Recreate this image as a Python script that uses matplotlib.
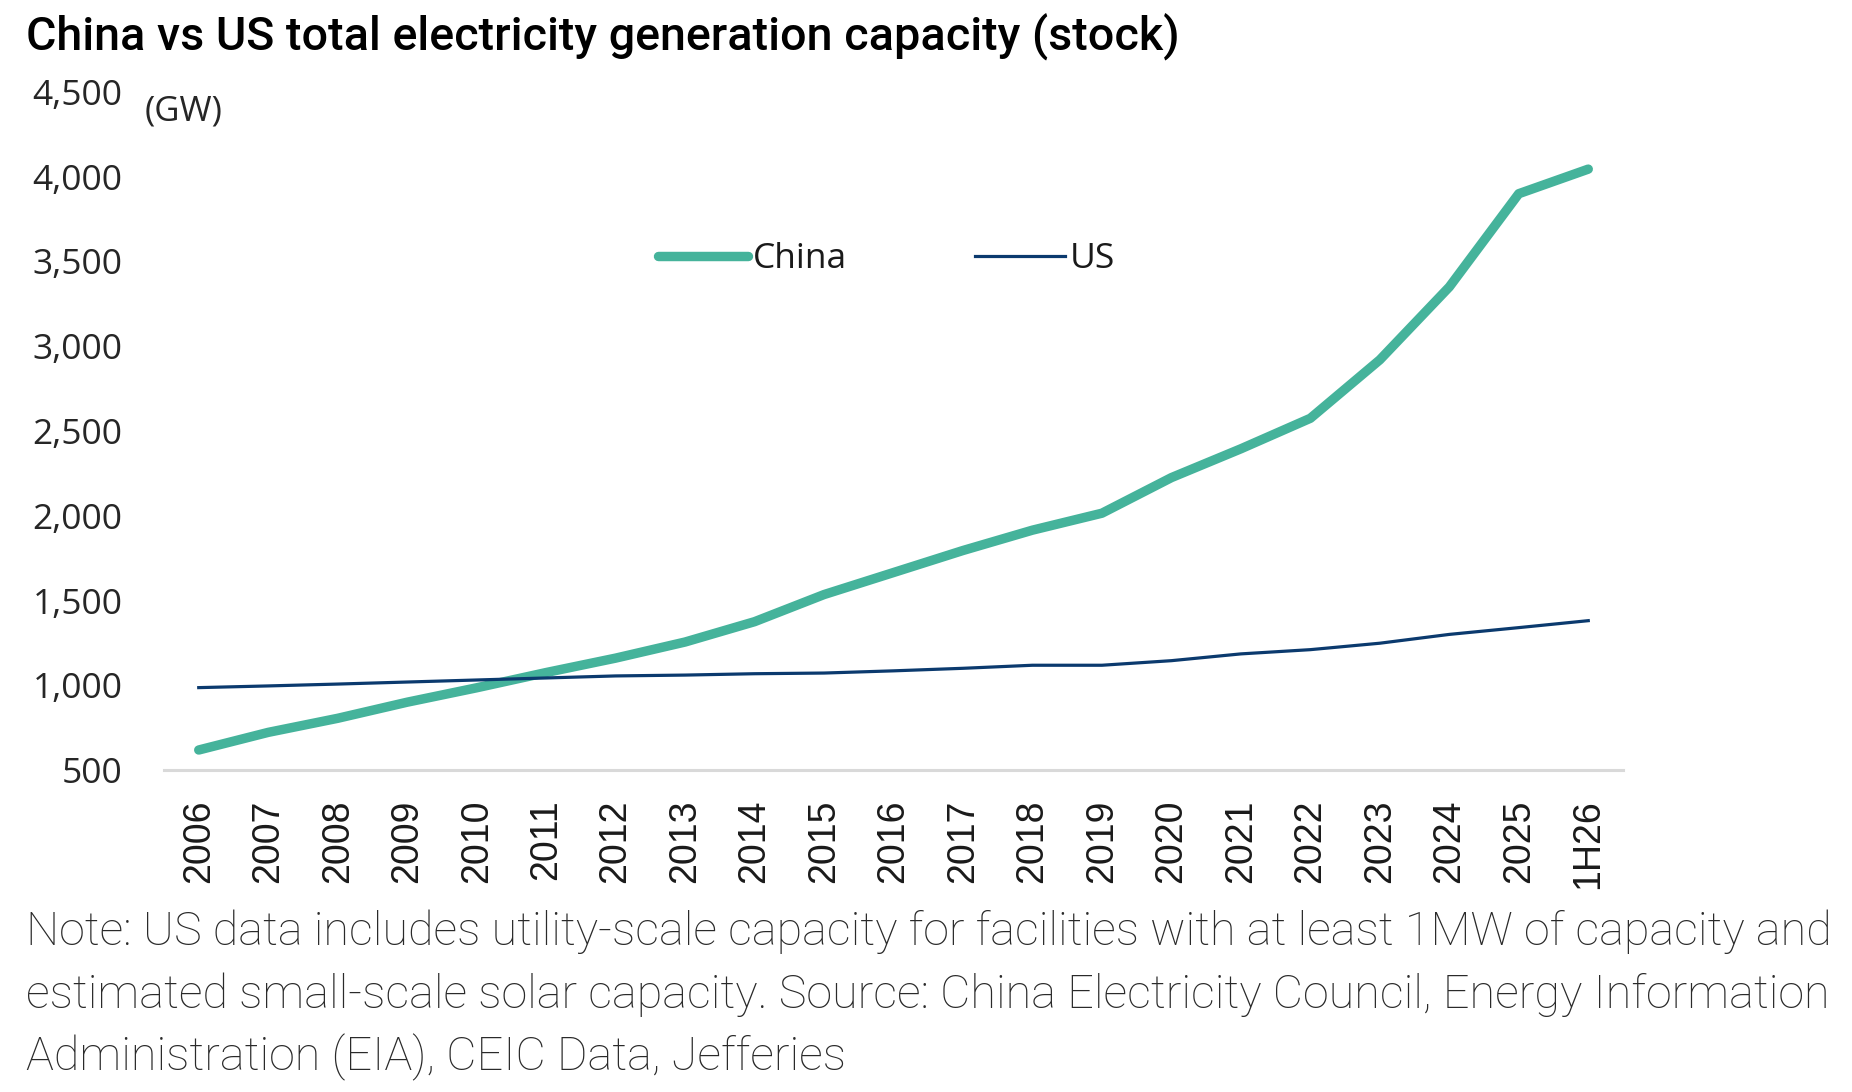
import numpy as np
import matplotlib
matplotlib.use('Agg')
import matplotlib.pyplot as plt

#---------------------- DATA (GW)
years  = ['2006','2007','2008','2009','2010','2011','2012','2013','2014','2015','2016',
          '2017','2018','2019','2020','2021','2022','2023','2024','2025','1H26']
china  = [618, 722, 805, 900, 985, 1075, 1160, 1255, 1375, 1535, 1665,
          1795, 1915, 2015, 2225, 2395, 2575, 2920, 3350, 3900, 4045]
us     = [986, 996, 1007, 1019, 1031, 1043, 1055, 1060, 1068, 1072, 1085,
          1100, 1118, 1118, 1145, 1185, 1210, 1248, 1300, 1340, 1381]
yticks = [500, 1000, 1500, 2000, 2500, 3000, 3500, 4000, 4500]
ylabs  = ['500','1,000','1,500','2,000','2,500','3,000','3,500','4,000','4,500']

title = 'China vs US total electricity generation capacity (stock)'
note  = ['Note: US data includes utility-scale capacity for facilities with at least 1MW of capacity and',
         'estimated small-scale solar capacity. Source: China Electricity Council, Energy Information',
         'Administration (EIA), CEIC Data, Jefferies']

green = '#45b39b'
navy  = '#0b3a6e'
W, H = 1852, 1092

fig = plt.figure(figsize=(W/100, H/100), dpi=100)
ax = fig.add_axes([164/W, 1-770/H, (1623-164)/W, (770-92)/H])

x = np.arange(len(years))
ax.plot(x, china, color=green, linewidth=6.8, solid_capstyle='round', solid_joinstyle='round', label='China')
ax.plot(x, us, color=navy, linewidth=2.3, solid_joinstyle='round', label='US')

ax.set_xlim(-0.5, len(years)-0.5)
ax.set_ylim(500, 4500)

for s in ['top','left','right']:
    ax.spines[s].set_visible(False)
ax.spines['bottom'].set_color('#d9d9d9')
ax.spines['bottom'].set_linewidth(2.2)

ax.set_yticks(yticks)
ax.set_yticklabels(ylabs, fontsize=25.5, family='Open Sans', color='#262626')
ax.set_xticks(x)
ax.set_xticklabels(years, rotation=90, fontsize=27, family='Liberation Sans', color='#1a1a1a')
ax.tick_params(axis='y', length=0, pad=30)
ax.tick_params(axis='x', length=0, pad=21)

leg = ax.legend(ncol=2, frameon=False, loc='center left',
                bbox_to_anchor=(658/W, 1-259/H), bbox_transform=fig.transFigure,
                borderpad=0, borderaxespad=0, handlelength=2.54, handletextpad=0.14,
                columnspacing=3.6, prop={'family':'Open Sans','size':25.5})
for t in leg.get_texts():
    t.set_color('#1a1a1a')

fig.text(145/W, 1-112/H, '(GW)', fontsize=25, family='Open Sans', color='#262626', ha='left', va='center')

fig.text(26/W, 1-50.7/H, title, fontsize=33.6, family='Roboto', fontweight='medium', color='black', ha='left', va='baseline')

for i, line in enumerate(note):
    fig.text(26/W, 1-(944.6+63*i)/H, line, fontsize=33.7, family='Roboto', fontweight='light',
             color='#2a2a2a', ha='left', va='baseline')

plt.savefig('out.png', dpi=100)
